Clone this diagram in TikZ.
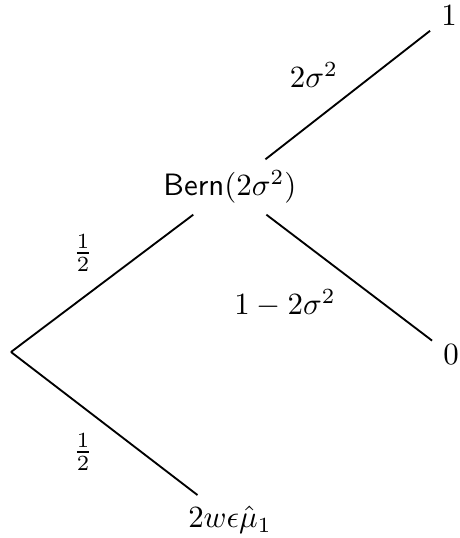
\documentclass[tikz,border=0pt]{standalone}
\usepackage{amsmath}
\usepackage{amssymb}
\usetikzlibrary{positioning}

\begin{document}
\begin{tikzpicture}[x=0.3235pt,y=-0.3235pt,semithick]
		\useasboundingbox (0,0) rectangle (459,538);
		% --- root and first split ---
		\coordinate (root) at (11,352);
		\node (bern) at (230,187) {$\mathsf{Bern}(2\sigma^2)$};
		\node (low) at (230,520) {$2w\epsilon\hat{\mu}_1$};
		\draw (root) -- (bern);
		\draw (root) -- (low);
		\node (pa) at (83,253) {$\frac{1}{2}$};
		\node (pb) at (83,452) {$\frac{1}{2}$};

		% --- second split ---
		\node (one) at (449,16) {$1$};
		\node (zero) at (451,355) {$0$};
		\draw (bern) -- (one);
		\draw (bern) -- (zero);
		\node (pc) at (314,75) {$2\sigma^2$};
		\node (pd) at (285,303) {$1-2\sigma^2$};
	\end{tikzpicture}
\end{document}
